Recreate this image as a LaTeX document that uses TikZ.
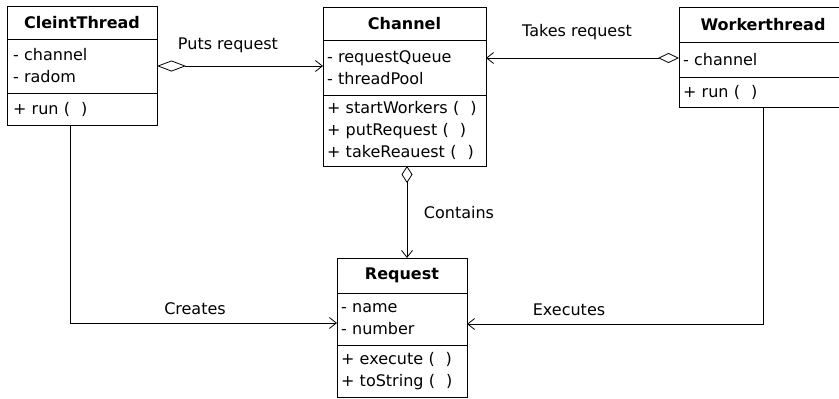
\documentclass[tikz,border=0pt]{standalone}
\usepackage{fontspec}
\setmainfont{DejaVu Sans}
\usetikzlibrary{arrows.meta}

% empty parameter list of an operation, set with a wide gap
\newcommand\umlparens{(\hspace{11pt})}

\tikzset{
  uml/.style={draw, line width=0.8pt, rectangle, outer sep=0pt, anchor=north west,
              inner ysep=0pt, font=\fontsize{16}{22}\selectfont},
  hdr/.style={uml, align=center, font=\fontsize{16}{22}\selectfont\bfseries},
  cmp/.style={uml, align=left, inner xsep=4pt, text width=#1-8pt},
  lbl/.style={font=\fontsize{16}{22}\selectfont, inner sep=0pt},
  link/.style={line width=0.8pt},
  head/.style={-{Straight Barb[length=7pt,width=11pt,line width=0.8pt]}},
  agg/.style 2 args={{Diamond[open,length=#1,width=#2,line width=0.8pt]}-{Straight Barb[length=7pt,width=11pt,line width=0.8pt]}},
}

\begin{document}
\begin{tikzpicture}[x=1pt, y=-1pt]
  \useasboundingbox (0,0) rectangle (839,399);
  \clip (0,0) rectangle (839,399);

  % CleintThread
  \node[hdr, minimum width=150pt, minimum height=33pt] (ctH) at (7,6) {CleintThread};
  \node[cmp=150pt, minimum height=54pt] (ctA) at (7,39) {\hspace{2pt}- channel\\\hspace{2pt}- radom};
  \node[cmp=150pt, minimum height=32pt] (ctM) at (7,93) {\hspace{2pt}+ run \umlparens};

  % Channel
  \node[hdr, minimum width=163pt, minimum height=33pt] (chH) at (323,7) {Channel};
  \node[cmp=163pt, minimum height=55pt] (chA) at (323,40) {- requestQueue\\- threadPool};
  \node[cmp=163pt, minimum height=71pt] (chM) at (323,95)
    {+ startWorkers \umlparens\\+ putRequest \umlparens\\+ takeReauest \umlparens};

  % Workerthread
  \node[hdr, minimum width=168pt, minimum height=35pt] (wtH) at (679,7) {Workerthread};
  \node[cmp=168pt, minimum height=35pt] (wtA) at (679,42) {- channel};
  \node[cmp=168pt, minimum height=30pt] (wtM) at (679,77) {+ run \umlparens};

  % Request
  \node[hdr, minimum width=130pt, minimum height=35pt] (rqH) at (337,258) {Request};
  \node[cmp=130pt, minimum height=52pt] (rqA) at (337,293) {- name\\- number};
  \node[cmp=130pt, minimum height=52.5pt] (rqM) at (337,345)
    {+ execute \umlparens\\+ toString \umlparens};

  % Connector end points
  \coordinate (tkStart) at ([yshift=1.5pt]wtA.west);
  \coordinate (cnStart) at ([xshift=2.5pt]chM.south);
  \coordinate (crStart) at ([xshift=-12pt]ctM.south);
  \coordinate (crEnd) at ([yshift=-4pt]rqA.west);
  \coordinate (exEnd) at ([yshift=-5pt]rqA.east);

  % Associations
  \draw[link, agg={29pt}{11pt}] (ctA.east) -- (chA.west |- ctA.east);
  \draw[link, agg={21pt}{10pt}] (tkStart) -- (chA.east |- tkStart);
  \draw[link, agg={17pt}{11pt}] (cnStart) -- (cnStart |- rqH.north);
  \draw[link, head] (crStart) |- (crEnd);
  \draw[link, head] (wtM.south) |- (exEnd);

  % Association labels
  \node[lbl] (lPuts) at (228,45) {Puts request};
  \node[lbl] (lTakes) at (577,32) {Takes request};
  \node[lbl] (lCont) at (459,213) {Contains};
  \node[lbl] (lCre) at (195,309) {Creates};
  \node[lbl] (lExe) at (569,310) {Executes};
\end{tikzpicture}
\end{document}
